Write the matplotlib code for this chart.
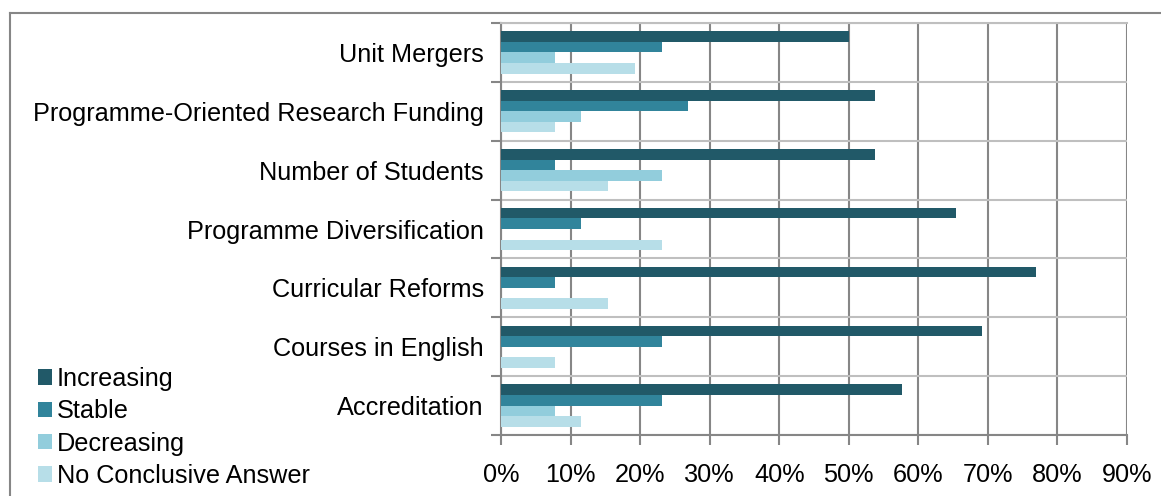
import numpy as np
import matplotlib
matplotlib.use("Agg")
import matplotlib.pyplot as plt
from matplotlib.ticker import FixedLocator, PercentFormatter

plt.rcParams['font.family'] = ['Liberation Sans', 'DejaVu Sans']

# Data (shares of respondents)
categories = ["Unit Mergers", "Programme-Oriented Research Funding", "Number of Students",
              "Programme Diversification", "Curricular Reforms", "Courses in English",
              "Accreditation"]
series_names = ["Increasing", "Stable", "Decreasing", "No Conclusive Answer"]
increasing = [50.0, 53.8, 53.8, 65.4, 76.9, 69.2, 57.7]
stable = [23.1, 26.9, 7.7, 11.5, 7.7, 23.1, 23.1]
decreasing = [7.7, 11.5, 23.1, 0.0, 0.0, 0.0, 7.7]
no_answer = [19.2, 7.7, 15.4, 23.1, 15.4, 7.7, 11.5]
xticks = [0, 10, 20, 30, 40, 50, 60, 70, 80, 90]

colors = ["#215968", "#31849B", "#92CDDC", "#B7DEE8"]
series = [increasing, stable, decreasing, no_answer]

fig = plt.figure(figsize=(11.61, 4.96), dpi=100)
ax = fig.add_axes([501 / 1161, 1 - 435 / 496, (1127 - 501) / 1161, (435 - 23) / 496])

y = np.arange(len(categories))
h = 0.18
for i, (vals, name, c) in enumerate(zip(series, series_names, colors)):
    ax.barh(y + (i - 1.5) * h, vals, height=h, color=c, label=name, zorder=3)

ax.set_xlim(0, 90)
ax.set_ylim(len(categories) - 0.5, -0.5)
ax.set_xticks(xticks)
ax.xaxis.set_major_formatter(PercentFormatter(decimals=0))
ax.set_yticks(y)
ax.set_yticklabels(categories)
ax.yaxis.set_minor_locator(FixedLocator(np.arange(-0.5, len(categories), 1.0)))

fs = 18.2
ax.tick_params(axis='y', which='major', length=0, pad=12.5, labelsize=fs)
ax.tick_params(axis='y', which='minor', length=7, width=1.5, color='#868686', direction='out')
ax.tick_params(axis='x', length=7, width=1.5, color='#868686', pad=13.5, labelsize=fs)

ax.grid(axis='x', color='#868686', linewidth=1.5, zorder=0)
ax.grid(axis='y', which='minor', color='#BFBFBF', linewidth=1.5, zorder=0)

ax.spines['right'].set_visible(False)
ax.spines['top'].set_color('#BFBFBF')
ax.spines['top'].set_linewidth(1.5)
for side in ['left', 'bottom']:
    ax.spines[side].set_color('#868686')
    ax.spines[side].set_linewidth(1.5)

# outer chart border (top and left)
fig.add_artist(plt.Line2D([10 / 1161, 1], [1 - 13 / 496, 1 - 13 / 496], color='#868686', lw=1.5))
fig.add_artist(plt.Line2D([10 / 1161, 10 / 1161], [0, 1 - 13 / 496], color='#868686', lw=1.5))

fig.legend(loc='upper left', bbox_to_anchor=(38 / 1161, 1 - 367 / 496), frameon=False,
           fontsize=fs, handlelength=0.55, handleheight=0.55, handletextpad=0.2,
           labelspacing=0.33, borderaxespad=0, borderpad=0)

fig.savefig("out.png", dpi=100)
